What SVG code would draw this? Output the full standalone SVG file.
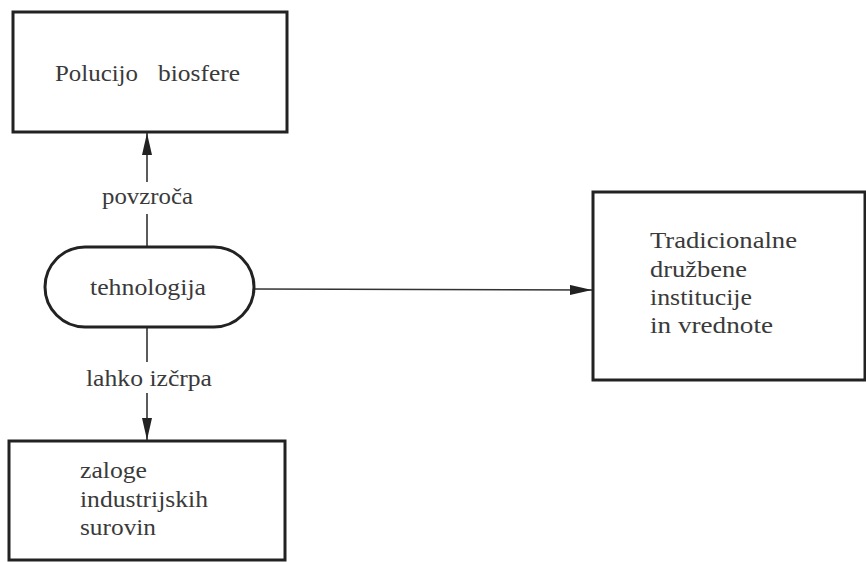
<svg xmlns="http://www.w3.org/2000/svg" width="866" height="562" viewBox="0 0 866 562">
<style>
.box{fill:#fff;stroke:#222;stroke-width:3}
.t{font-family:"Liberation Serif","Times New Roman",serif;font-size:24px;fill:#3a3a3a}
.c{fill:none;stroke:#333;stroke-width:1.6}
</style>
<defs>
<marker id="ahv" viewBox="0 0 10 10" refX="10" refY="5" markerWidth="22" markerHeight="10" markerUnits="userSpaceOnUse" orient="auto" preserveAspectRatio="none">
<path d="M0,0 L10,5 L0,10 Z" fill="#222"/>
</marker>
</defs>
<rect width="866" height="562" fill="#fff"/>
<g id="connectors">
<line class="c" x1="147" y1="247" x2="147" y2="214"/>
<line class="c" x1="147" y1="182" x2="147" y2="133" marker-end="url(#ahv)"/>
<line class="c" x1="147" y1="327" x2="147" y2="362"/>
<line class="c" x1="147" y1="393" x2="147" y2="440" marker-end="url(#ahv)"/>
<line class="c" x1="255" y1="289" x2="592" y2="290" marker-end="url(#ahv)"/>
<text class="t" x="102" y="204" textLength="91" lengthAdjust="spacingAndGlyphs">povzroča</text>
<text class="t" x="86" y="386" textLength="126" lengthAdjust="spacingAndGlyphs">lahko izčrpa</text>
</g>
<g id="polucija">
<rect class="box" x="13" y="12" width="274" height="120"/>
<text class="t" x="55" y="81" textLength="83" lengthAdjust="spacingAndGlyphs">Polucijo</text>
<text class="t" x="158" y="81" textLength="82" lengthAdjust="spacingAndGlyphs">biosfere</text>
</g>
<g id="tehnologija">
<rect class="box" x="45" y="247" width="209" height="80" rx="40" ry="40"/>
<text class="t" x="90" y="295" textLength="116" lengthAdjust="spacingAndGlyphs">tehnologija</text>
</g>
<g id="tradicionalne">
<rect class="box" x="593" y="192" width="272" height="188"/>
<text class="t" x="650" y="248" textLength="147" lengthAdjust="spacingAndGlyphs">Tradicionalne</text>
<text class="t" x="650" y="277" textLength="97" lengthAdjust="spacingAndGlyphs">družbene</text>
<text class="t" x="650" y="305" textLength="102" lengthAdjust="spacingAndGlyphs">institucije</text>
<text class="t" x="650" y="333" textLength="123" lengthAdjust="spacingAndGlyphs">in vrednote</text>
</g>
<g id="zaloge">
<rect class="box" x="9" y="441" width="276" height="119"/>
<text class="t" x="80" y="478" textLength="67" lengthAdjust="spacingAndGlyphs">zaloge</text>
<text class="t" x="80" y="507" textLength="128" lengthAdjust="spacingAndGlyphs">industrijskih</text>
<text class="t" x="80" y="535" textLength="76" lengthAdjust="spacingAndGlyphs">surovin</text>
</g>
</svg>
